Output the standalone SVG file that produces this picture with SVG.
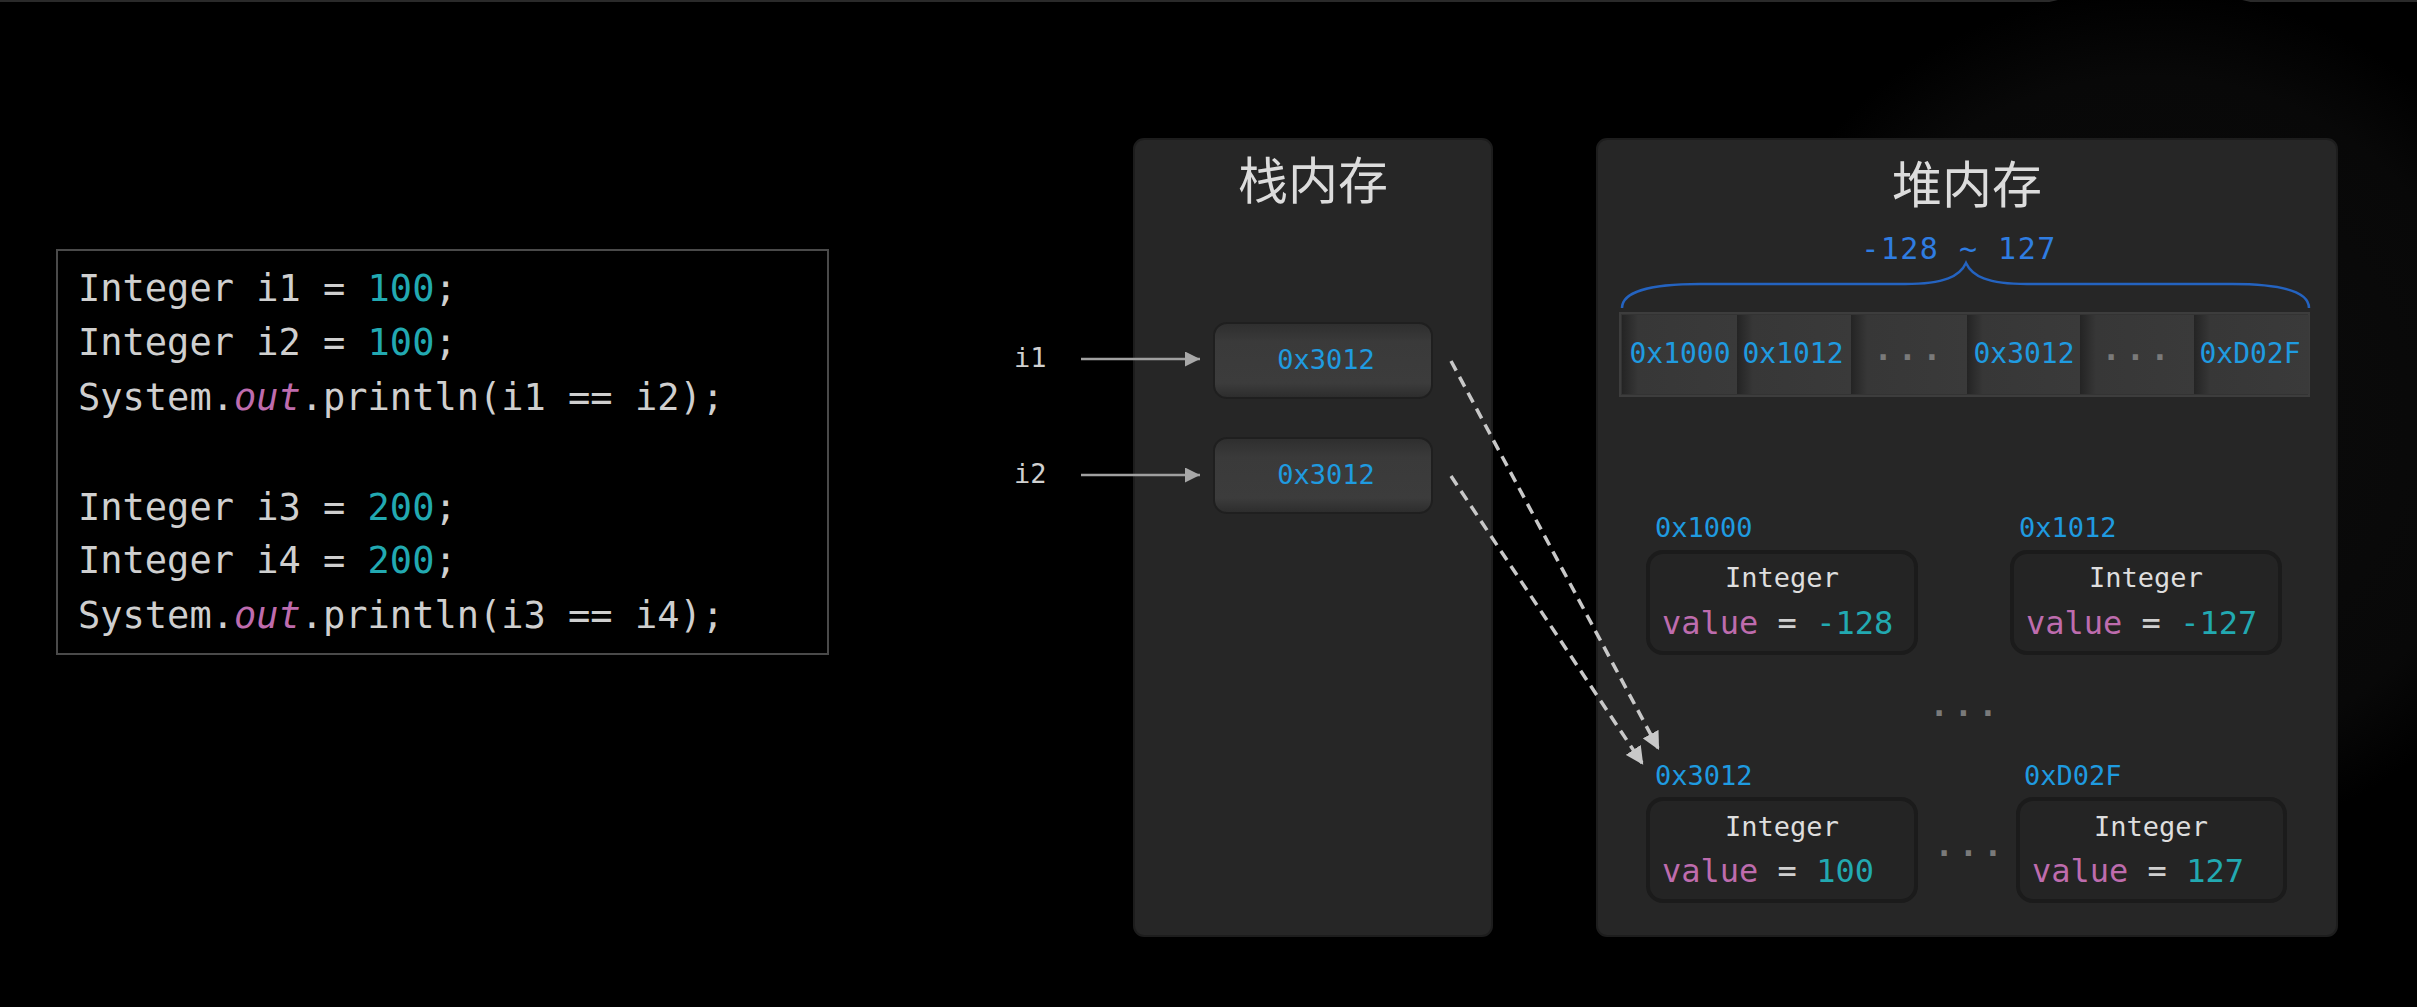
<svg xmlns="http://www.w3.org/2000/svg" width="2417" height="1007" viewBox="0 0 2417 1007">
<style>
.mono{font-family:"DejaVu Sans Mono","Liberation Mono",monospace}
.code{font-size:37px;fill:#cfcfcf}
.num{fill:#22a9b1}
.kw{fill:#be6cae}
.addr{font-size:27px;fill:#1f9be0}
.title{font-family:"Noto Sans CJK SC","Noto Sans",sans-serif;font-size:50px;fill:#dcdcdc;text-anchor:middle}
.panel{fill:#262626;stroke:#1d1d1d;stroke-width:2}
.cell{fill:url(#cellg);stroke:#1f1f1f;stroke-width:2}
.acell{fill:url(#acg)}
.obj{fill:#242424;stroke:#1b1b1b;stroke-width:4}
.objt{font-size:27px;fill:#dedede;text-anchor:middle}
.val{font-size:32px;fill:#cfcfcf}
.dots{font-size:32px;font-weight:bold;fill:#7a7a7a;letter-spacing:5px;text-anchor:middle}
.lbl{font-size:27px;fill:#d0d0d0}
</style>
<defs>
<linearGradient id="cellg" x1="0" y1="0" x2="0" y2="1">
<stop offset="0" stop-color="#2e2e2e"/>
<stop offset="0.25" stop-color="#3a3a3a"/>
<stop offset="0.8" stop-color="#3c3c3c"/>
<stop offset="1" stop-color="#2c2c2c"/>
</linearGradient>
<linearGradient id="acg" x1="0" y1="0" x2="1" y2="0">
<stop offset="0" stop-color="#242424"/>
<stop offset="0.14" stop-color="#373737"/>
<stop offset="1" stop-color="#3a3a3a"/>
</linearGradient>
<radialGradient id="bgg" cx="0.5" cy="0.5" r="0.5">
<stop offset="0" stop-color="#0c0c0c"/>
<stop offset="0.8" stop-color="#080808"/>
<stop offset="1" stop-color="#000000"/>
</radialGradient>
<marker id="ah" viewBox="0 0 16 16" refX="16" refY="8" markerWidth="16" markerHeight="15" markerUnits="userSpaceOnUse" orient="auto">
<path d="M0,0 L16,8 L0,16 z" fill="#a8a8a8"/>
</marker>
<marker id="ahd" viewBox="0 0 16 16" refX="14" refY="8" markerWidth="18" markerHeight="18" markerUnits="userSpaceOnUse" orient="auto">
<path d="M0,0 L16,8 L0,16 z" fill="#c8c8c8"/>
</marker>
</defs>
<rect x="0" y="0" width="2417" height="1007" fill="#000"/>
<rect x="0" y="0" width="2417" height="2" fill="#2a2a2a"/>
<circle cx="2150" cy="420" r="430" fill="url(#bgg)"/>

<g id="code">
<rect x="57" y="250" width="771" height="404" fill="#000" stroke="#4a4a4a" stroke-width="2"/>
<text class="mono code" x="78" y="301">Integer i1 = <tspan class="num">100</tspan>;</text>
<text class="mono code" x="78" y="355">Integer i2 = <tspan class="num">100</tspan>;</text>
<text class="mono code" x="78" y="410">System.<tspan class="kw" font-style="italic">out</tspan>.println(i1 == i2);</text>
<text class="mono code" x="78" y="520">Integer i3 = <tspan class="num">200</tspan>;</text>
<text class="mono code" x="78" y="573">Integer i4 = <tspan class="num">200</tspan>;</text>
<text class="mono code" x="78" y="628">System.<tspan class="kw" font-style="italic">out</tspan>.println(i3 == i4);</text>
</g>

<g id="stack">
<rect class="panel" x="1134" y="139" width="358" height="797" rx="10"/>
<text class="title" x="1313" y="199">栈内存</text>
</g>

<g id="heap">
<rect class="panel" x="1597" y="139" width="740" height="797" rx="10"/>
<text class="title" x="1967" y="203">堆内存</text>
<text class="mono" x="1959" y="259" font-size="30" letter-spacing="1.5" fill="#2f7de1" text-anchor="middle">-128 ~ 127</text>
<path d="M1622,308 C1622,292 1650,284 1700,284 L1905,284 C1945,284 1960,276 1966,263 C1972,276 1987,284 2027,284 L2232,284 C2282,284 2309,292 2309,308" fill="none" stroke="#2463c0" stroke-width="2.5"/>
</g>

<g id="addr-strip">
<rect x="1620" y="313" width="689" height="83" fill="#333" stroke="#3d3d3d" stroke-width="2"/>
<rect class="acell" x="1622" y="315" width="115" height="79"/>
<rect class="acell" x="1737" y="315" width="114" height="79"/>
<rect class="acell" x="1851" y="315" width="116" height="79"/>
<rect class="acell" x="1967" y="315" width="113" height="79"/>
<rect class="acell" x="2080" y="315" width="114" height="79"/>
<rect class="acell" x="2194" y="315" width="115" height="79"/>
<text class="mono" x="1680" y="363" font-size="28" fill="#1f9be0" text-anchor="middle">0x1000</text>
<text class="mono" x="1793" y="363" font-size="28" fill="#1f9be0" text-anchor="middle">0x1012</text>
<text class="mono dots" x="1910" y="360">...</text>
<text class="mono" x="2024" y="363" font-size="28" fill="#1f9be0" text-anchor="middle">0x3012</text>
<text class="mono dots" x="2138" y="360">...</text>
<text class="mono" x="2250" y="363" font-size="28" fill="#1f9be0" text-anchor="middle">0xD02F</text>
</g>

<g id="i1">
<text class="mono lbl" x="1014" y="367">i1</text>
</g>
<g id="i2">
<text class="mono lbl" x="1014" y="483">i2</text>
</g>

<g id="stack-cell-1">
<rect class="cell" x="1214" y="323" width="218" height="75" rx="13"/>
<text class="mono addr" x="1326" y="369" text-anchor="middle">0x3012</text>
</g>
<g id="stack-cell-2">
<rect class="cell" x="1214" y="438" width="218" height="75" rx="13"/>
<text class="mono addr" x="1326" y="484" text-anchor="middle">0x3012</text>
</g>

<g id="obj-0x1000">
<text class="mono addr" x="1655" y="537">0x1000</text>
<rect class="obj" x="1648" y="552" width="268" height="101" rx="15"/>
<text class="mono objt" x="1782" y="587">Integer</text>
<text class="mono val" x="1662" y="634"><tspan class="kw">value</tspan> = <tspan class="num">-128</tspan></text>
</g>
<g id="obj-0x1012">
<text class="mono addr" x="2019" y="537">0x1012</text>
<rect class="obj" x="2012" y="552" width="268" height="101" rx="15"/>
<text class="mono objt" x="2146" y="587">Integer</text>
<text class="mono val" x="2026" y="634"><tspan class="kw">value</tspan> = <tspan class="num">-127</tspan></text>
</g>
<text class="mono dots" x="1966" y="716">...</text>
<g id="obj-0x3012">
<text class="mono addr" x="1655" y="785">0x3012</text>
<rect class="obj" x="1648" y="799" width="268" height="102" rx="15"/>
<text class="mono objt" x="1782" y="836">Integer</text>
<text class="mono val" x="1662" y="882"><tspan class="kw">value</tspan> = <tspan class="num">100</tspan></text>
</g>
<text class="mono dots" x="1971" y="856">...</text>
<g id="obj-0xD02F">
<text class="mono addr" x="2024" y="785">0xD02F</text>
<rect class="obj" x="2018" y="799" width="267" height="102" rx="15"/>
<text class="mono objt" x="2151" y="836">Integer</text>
<text class="mono val" x="2032" y="882"><tspan class="kw">value</tspan> = <tspan class="num">127</tspan></text>
</g>

<g id="connectors">
<line x1="1081" y1="359" x2="1200" y2="359" stroke="#a0a0a0" stroke-width="2.5" marker-end="url(#ah)"/>
<line x1="1081" y1="475" x2="1200" y2="475" stroke="#a0a0a0" stroke-width="2.5" marker-end="url(#ah)"/>
<line x1="1451" y1="361" x2="1658" y2="748" stroke="#c8c8c8" stroke-width="3.5" stroke-dasharray="11 7" marker-end="url(#ahd)"/>
<line x1="1451" y1="476" x2="1642" y2="763" stroke="#c8c8c8" stroke-width="3.5" stroke-dasharray="11 7" marker-end="url(#ahd)"/>
</g>
</svg>
